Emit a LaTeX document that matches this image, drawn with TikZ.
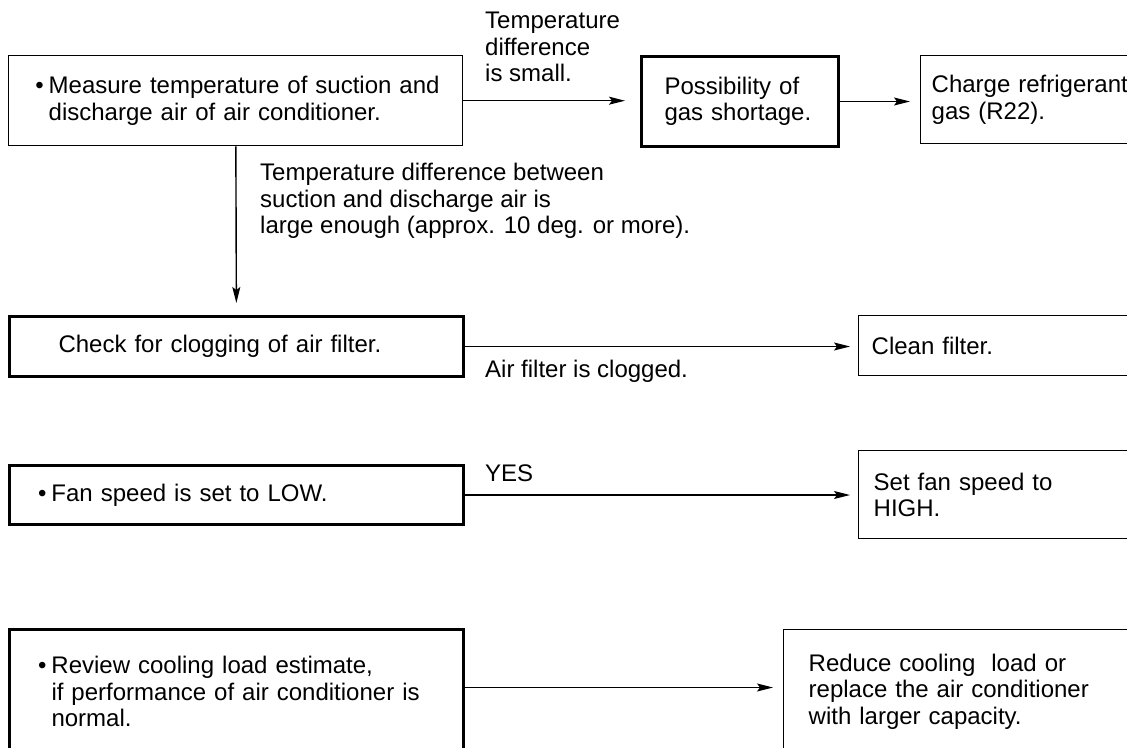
\documentclass[tikz,border=0pt]{standalone}
\usepackage{fontspec}
\setmainfont{Liberation Sans}
\usetikzlibrary{arrows.meta}

\newcommand{\bul}{\llap{\textbullet\hspace{5pt}}}
\newcommand{\ind}[1]{\hspace*{#1pt}}

\tikzset{
	thinbox/.style={draw, line width=1.4pt, anchor=north west, inner sep=0, align=left},
	thickbox/.style={thinbox, line width=3pt},
	flow/.style={-{Stealth[length=16pt,width=8pt,inset=3pt]}, line width=1.4pt},
	note/.style={anchor=north west, inner sep=0, align=left}
}

\begin{document}
\begin{tikzpicture}[x=1pt, y=-1pt, font=\fontsize{24pt}{26.5pt}\selectfont]
	\useasboundingbox (0,0) rectangle (1127,747);
	\clip (0,0) rectangle (1127,747);

	\node[thinbox, text width=454pt, minimum height=90pt] (measure) at (8,55) {\ind{40}\bul Measure temperature of suction and\\\ind{40}discharge air of air conditioner.};
	\node[thickbox, text width=197pt, minimum height=90pt] (gasshort) at (640,55) {\ind{23}Possibility of\\\ind{23}gas shortage.};
	\node[thinbox, text width=240pt, minimum height=88pt] (charge) at (920,55) {\ind{11}Charge refrigerant\\\ind{11}gas (R22).};
	\node[thickbox, text width=454pt, minimum height=60pt] (filter) at (8,315) {\ind{49}Check for clogging of air filter.};
	\node[thinbox, text width=300pt, minimum height=60pt] (clean) at (858,315) {\ind{13}Clean filter.};
	\node[thickbox, text width=454pt, minimum height=59pt] (fanlow) at (8,464) {\ind{42}\bul Fan speed is set to LOW.};
	\node[thinbox, text width=300pt, minimum height=88pt] (fanhigh) at (858,450) {\ind{15}Set fan speed to\\\ind{15}HIGH.};
	\node[thickbox, text width=454pt, minimum height=124pt] (review) at (8,628) {\ind{42}\bul Review cooling load estimate,\\\ind{42}if performance of air conditioner is\\\ind{42}normal.};
	\node[thinbox, text width=400pt, minimum height=124pt] (reduce) at (783,629) {\ind{25}Reduce cooling\ \ load or\\\ind{25}replace the air conditioner\\\ind{25}with larger capacity.};

	\node[note] (small) at (485,12) {Temperature\\difference\\is small.};
	\node[note] (large) at (260,163) {Temperature difference between\\suction and discharge air is\\large enough (approx. 10 deg. or more).};
	\node[note] (clogged) at (485,360) {Air filter is clogged.};
	\node[note] (yes) at (485,465) {YES};

	\coordinate (revout) at ([yshift=4pt]review.east);

	\draw[flow, shorten >=15pt] (measure.east) -- (measure.east -| gasshort.west);
	\draw[flow, shorten >=10pt] (gasshort.east) -- (gasshort.east -| charge.west);
	\draw[flow, shorten >=12pt] (measure) -- (filter);
	\draw[flow, shorten >=8pt] (filter.east) -- (filter.east -| clean.west);
	\draw[flow, shorten >=8pt] (fanlow.east) -- (fanlow.east -| fanhigh.west);
	\draw[flow, shorten >=10pt] (revout) -- (revout -| reduce.west);
\end{tikzpicture}
\end{document}
